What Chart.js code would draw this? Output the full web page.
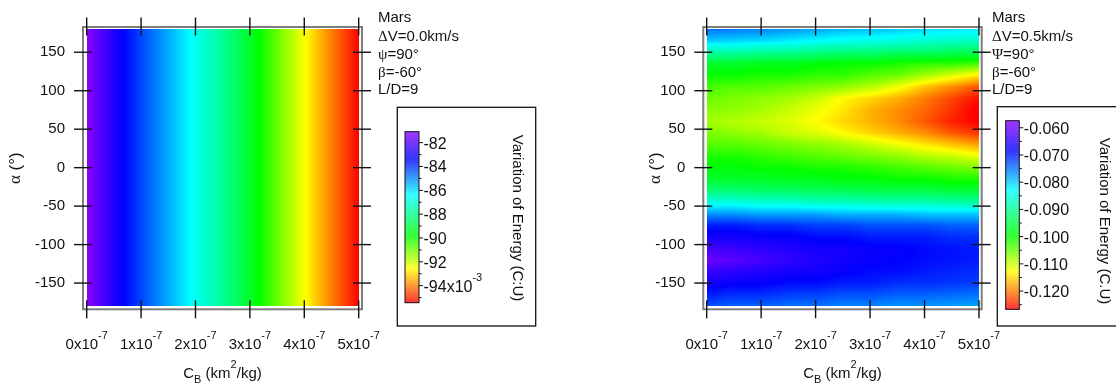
<!DOCTYPE html>
<html>
<head>
<meta charset="utf-8">
<title>Variation of Energy - Mars</title>
<script src="https://cdn.jsdelivr.net/npm/chart.js@4.4.1/dist/chart.umd.min.js"></script>
<style>
  html, body { margin: 0; padding: 0; background: #fff; }
  #page { position: relative; width: 1116px; height: 386px; overflow: hidden; }
  #page canvas { position: absolute; top: 0; }
</style>
</head>
<body>
<div id="page">
  <canvas id="chartDv0" width="558" height="386" style="left:0"></canvas>
  <canvas id="chartDv05" width="558" height="386" style="left:558px"></canvas>
</div>
<script>
// axis ticks (C_B is given in units of 1e-7 km^2/kg)
const cbTicks = [0, 1, 2, 3, 4, 5];
const alphaTicks = [150, 100, 50, 0, -50, -100, -150];

// sampling grid of the energy maps
const cbGrid = [0, 0.5, 1, 1.5, 2, 2.5, 3, 3.5, 4, 4.5, 5];
const alphaGrid = [180, 165, 150, 135, 120, 105, 90, 75, 60, 45, 30, 15, 0,
                   -15, -30, -45, -60, -75, -90, -105, -120, -135, -150, -165, -180];

// dV = 0.0 km/s : energy only depends on C_B (units of 1e-3 C.U)
const energyDv0 = [-81.1, -82.9, -84.2, -85.4, -86.6, -87.8, -89.3, -90.9, -92.5, -94.0, -95.4];

// dV = 0.5 km/s : one row per alphaGrid entry, one column per cbGrid entry (C.U)
const energyDv05 = [
  [-0.075, -0.0755, -0.076, -0.077, -0.078, -0.079, -0.0795, -0.080, -0.081, -0.0815, -0.082],
  [-0.080, -0.0805, -0.081, -0.082, -0.083, -0.084, -0.0845, -0.085, -0.086, -0.0865, -0.087],
  [-0.089, -0.089, -0.090, -0.090, -0.091, -0.092, -0.092, -0.093, -0.093, -0.094, -0.094],
  [-0.097, -0.097, -0.098, -0.098, -0.099, -0.100, -0.100, -0.101, -0.102, -0.102, -0.103],
  [-0.100, -0.100, -0.101, -0.101, -0.102, -0.102, -0.104, -0.105, -0.108, -0.111, -0.114],
  [-0.103, -0.104, -0.104, -0.105, -0.106, -0.107, -0.109, -0.112, -0.116, -0.119, -0.122],
  [-0.105, -0.106, -0.107, -0.108, -0.110, -0.113, -0.115, -0.117, -0.120, -0.123, -0.126],
  [-0.107, -0.107, -0.108, -0.110, -0.112, -0.114, -0.117, -0.119, -0.121, -0.124, -0.1275],
  [-0.108, -0.109, -0.110, -0.111, -0.113, -0.115, -0.117, -0.119, -0.122, -0.125, -0.127],
  [-0.106, -0.107, -0.108, -0.110, -0.111, -0.113, -0.115, -0.117, -0.119, -0.122, -0.124],
  [-0.104, -0.104, -0.105, -0.106, -0.107, -0.108, -0.110, -0.112, -0.114, -0.116, -0.118],
  [-0.101, -0.101, -0.102, -0.103, -0.104, -0.105, -0.106, -0.107, -0.109, -0.110, -0.112],
  [-0.099, -0.099, -0.100, -0.100, -0.101, -0.101, -0.102, -0.103, -0.104, -0.105, -0.106],
  [-0.097, -0.097, -0.097, -0.098, -0.098, -0.099, -0.099, -0.100, -0.100, -0.101, -0.101],
  [-0.092, -0.092, -0.093, -0.093, -0.094, -0.094, -0.095, -0.095, -0.095, -0.096, -0.096],
  [-0.085, -0.085, -0.086, -0.086, -0.087, -0.087, -0.088, -0.088, -0.088, -0.089, -0.089],
  [-0.077, -0.077, -0.078, -0.078, -0.078, -0.079, -0.079, -0.079, -0.080, -0.080, -0.080],
  [-0.070, -0.070, -0.071, -0.071, -0.072, -0.072, -0.073, -0.073, -0.073, -0.074, -0.074],
  [-0.067, -0.067, -0.068, -0.068, -0.069, -0.069, -0.070, -0.070, -0.070, -0.071, -0.071],
  [-0.063, -0.064, -0.065, -0.066, -0.067, -0.067, -0.068, -0.068, -0.069, -0.0695, -0.070],
  [-0.060, -0.0615, -0.063, -0.0645, -0.066, -0.067, -0.068, -0.0685, -0.069, -0.0695, -0.070],
  [-0.064, -0.065, -0.066, -0.067, -0.067, -0.068, -0.069, -0.069, -0.070, -0.0705, -0.071],
  [-0.067, -0.068, -0.068, -0.069, -0.069, -0.070, -0.070, -0.071, -0.071, -0.0715, -0.072],
  [-0.070, -0.071, -0.071, -0.072, -0.072, -0.073, -0.073, -0.074, -0.074, -0.0745, -0.075],
  [-0.073, -0.074, -0.074, -0.075, -0.075, -0.076, -0.076, -0.077, -0.077, -0.0775, -0.078]
];

// colour scale ticks
const barTicksDv0 = [-82, -84, -86, -88, -90, -92, -94];
const barMinorDv0 = [-83, -85, -87, -89, -91, -93, -95];
const barTicksDv05 = [-0.060, -0.070, -0.080, -0.090, -0.100, -0.110, -0.120];
const barMinorDv05 = [-0.065, -0.075, -0.085, -0.095, -0.105, -0.115, -0.125];

// case annotations
const infoDv0 = [['Mars'], ['\u0394', 'V=0.0km/s'], ['\u03c8', '=90\u00b0'], ['\u03b2', '=-60\u00b0'], ['L/D=9']];
const infoDv05 = [['Mars'], ['\u0394', 'V=0.5km/s'], ['\u03a8', '=90\u00b0'], ['\u03b2', '=-60\u00b0'], ['L/D=9']];

const FONT = "'Liberation Sans', Arial, sans-serif";
const SERIF = "'Liberation Serif', 'Times New Roman', serif";
const INK = '#111';

// rainbow colour table: 0 = lowest value (red), 1 = highest value (violet)
const rainbow = [
  [0.00, [255, 0, 0]],
  [0.20, [255, 255, 0]],
  [0.39, [0, 255, 0]],
  [0.63, [0, 255, 255]],
  [0.84, [0, 0, 255]],
  [1.00, [140, 0, 255]]
];

function clamp(v, a, b) { return Math.max(a, Math.min(b, v)); }

function colourAt(t) {
  t = clamp(t, 0, 1);
  for (let i = 1; i < rainbow.length; i++) {
    const [t1, c1] = rainbow[i];
    if (t <= t1) {
      const [t0, c0] = rainbow[i - 1];
      const f = (t - t0) / (t1 - t0);
      return [0, 1, 2].map(k => Math.round(c0[k] + (c1[k] - c0[k]) * f));
    }
  }
  return rainbow[rainbow.length - 1][1];
}

// text made of pieces: [text, kind] with kind '', 'sup', 'sub' or 'serif'
function drawRich(ctx, parts, x, y, size, align) {
  const fonts = parts.map(([, kind]) => {
    const s = (kind === 'sup' || kind === 'sub') ? Math.round(size * 0.7) : size;
    return s + 'px ' + (kind === 'serif' ? SERIF : FONT);
  });
  let w = 0;
  parts.forEach(([t], i) => { ctx.font = fonts[i]; w += ctx.measureText(t).width; });
  let cx = align === 'center' ? x - w / 2 : align === 'right' ? x - w : x;
  ctx.textAlign = 'left';
  parts.forEach(([t, kind], i) => {
    ctx.font = fonts[i];
    const dy = kind === 'sup' ? -size * 0.65 : kind === 'sub' ? size * 0.3 : 0;
    ctx.fillText(t, cx, y + dy);
    cx += ctx.measureText(t).width;
  });
}

function line(ctx, x0, y0, x1, y1) {
  ctx.beginPath(); ctx.moveTo(x0, y0); ctx.lineTo(x1, y1); ctx.stroke();
}

function panelPlugin(cfg) {
  return {
    id: 'panel',
    // energy map, shaded pixel by pixel between the grid samples
    beforeDatasetsDraw(chart) {
      const ctx = chart.ctx, xs = chart.scales.x, ys = chart.scales.y;
      const nx = cbGrid.length, ny = alphaGrid.length;
      const grid = alphaGrid.map(() => new Array(nx));
      chart.data.datasets[0].data.forEach(c => {
        grid[alphaGrid.indexOf(c.y)][cbGrid.indexOf(c.x)] = c.v;
      });
      const left = Math.round(xs.getPixelForValue(cbGrid[0]));
      const right = Math.round(xs.getPixelForValue(cbGrid[nx - 1]));
      const top = Math.round(ys.getPixelForValue(alphaGrid[0]));
      const bottom = Math.round(ys.getPixelForValue(alphaGrid[ny - 1]));
      const w = right - left, h = bottom - top;
      const img = ctx.createImageData(w, h);
      const dcb = cbGrid[1] - cbGrid[0], dal = alphaGrid[0] - alphaGrid[1];
      for (let py = 0; py < h; py++) {
        const a = ys.getValueForPixel(top + py + 0.5);
        const fy = clamp((alphaGrid[0] - a) / dal, 0, ny - 1);
        const j0 = Math.min(Math.floor(fy), ny - 2), ty = fy - j0;
        for (let px = 0; px < w; px++) {
          const c = xs.getValueForPixel(left + px + 0.5);
          const fx = clamp((c - cbGrid[0]) / dcb, 0, nx - 1);
          const i0 = Math.min(Math.floor(fx), nx - 2), tx = fx - i0;
          const v = (grid[j0][i0] * (1 - tx) + grid[j0][i0 + 1] * tx) * (1 - ty) +
                    (grid[j0 + 1][i0] * (1 - tx) + grid[j0 + 1][i0 + 1] * tx) * ty;
          const col = colourAt((v - cfg.vMin) / (cfg.vMax - cfg.vMin));
          const k = (py * w + px) * 4;
          img.data[k] = col[0]; img.data[k + 1] = col[1]; img.data[k + 2] = col[2]; img.data[k + 3] = 255;
        }
      }
      ctx.putImageData(img, left, top);
    },
    afterDraw(chart) {
      const ctx = chart.ctx, xs = chart.scales.x, ys = chart.scales.y;
      const area = chart.chartArea;
      ctx.save();

      // plot frame
      ctx.strokeStyle = '#7d7d7d';
      ctx.lineWidth = 2;
      ctx.strokeRect(area.left, area.top, area.right - area.left, area.bottom - area.top);

      // ticks cross the frame on all four sides
      ctx.strokeStyle = INK;
      ctx.lineWidth = 1.4;
      cbTicks.forEach(v => {
        const x = xs.getPixelForValue(v);
        line(ctx, x, area.top - 9.5, x, area.top + 8.5);
        line(ctx, x, area.bottom - 9, x, area.bottom + 9);
      });
      alphaTicks.forEach(v => {
        const y = ys.getPixelForValue(v);
        line(ctx, area.left - 9, y, area.left + 9, y);
        line(ctx, area.right - 9, y, area.right + 9, y);
      });

      ctx.fillStyle = INK;
      ctx.textBaseline = 'alphabetic';

      // x tick labels  "Nx10^-7"
      cbTicks.forEach(v => {
        drawRich(ctx, [[v + 'x10', ''], ['-7', 'sup']], xs.getPixelForValue(v), 349, 15, 'center');
      });

      // axis titles
      const midX = (area.left + area.right) / 2;
      drawRich(ctx, [['C', ''], ['B', 'sub'], [' (km', ''], ['2', 'sup'], ['/kg)', '']], midX, 378, 15, 'center');
      ctx.save();
      ctx.translate(cfg.yTitleX, (area.top + area.bottom) / 2);
      ctx.rotate(-Math.PI / 2);
      ctx.textBaseline = 'middle';
      drawRich(ctx, [['\u03b1', 'serif'], [' (\u00b0)', '']], 0, 0, 17, 'center');
      ctx.restore();

      // case annotations
      cfg.info.forEach((parts, i) => {
        const rich = parts.length === 2 ? [[parts[0], 'serif'], [parts[1], '']] : [[parts[0], '']];
        drawRich(ctx, rich, cfg.infoX, cfg.infoY[i], 15, 'left');
      });

      // colour scale box
      const b = cfg.box;
      ctx.strokeStyle = INK;
      ctx.lineWidth = 1.3;
      ctx.strokeRect(b.x, b.y, b.w, b.h);

      const bar = cfg.bar;
      for (let y = 0; y < bar.h; y++) {
        const v = cfg.vMax - (y + 0.5) / bar.h * (cfg.vMax - cfg.vMin);
        const c = colourAt((v - cfg.vMin) / (cfg.vMax - cfg.vMin));
        ctx.fillStyle = `rgb(${c[0]},${c[1]},${c[2]})`;
        ctx.fillRect(bar.x, bar.y + y, bar.w, 1);
      }
      ctx.lineWidth = 1;
      ctx.strokeRect(bar.x, bar.y, bar.w, bar.h);

      const barY = v => bar.y + (cfg.vMax - v) / (cfg.vMax - cfg.vMin) * bar.h;
      const bx = bar.x + bar.w;
      cfg.minor.forEach(v => line(ctx, bx, barY(v), bx + 2.5, barY(v)));
      ctx.fillStyle = INK;
      cfg.major.forEach((v, i) => {
        const y = barY(v);
        line(ctx, bx, y, bx + 4, y);
        const parts = i === cfg.major.length - 1 ? cfg.lastLabel(v) : [[cfg.fmt(v), '']];
        drawRich(ctx, parts, bx + 4.5, y + 6, 16, 'left');
      });

      // colour scale title, reading downwards
      ctx.save();
      ctx.translate(cfg.titleX, cfg.titleY);
      ctx.rotate(Math.PI / 2);
      ctx.font = '15px ' + FONT;
      ctx.textAlign = 'center';
      ctx.textBaseline = 'middle';
      ctx.fillText(cfg.title, 0, 0);
      ctx.restore();

      ctx.restore();
    }
  };
}

function makePanel(id, values, cfg) {
  const cells = [];
  alphaGrid.forEach((a, j) => cbGrid.forEach((c, i) => cells.push({ x: c, y: a, v: values(j, i) })));
  return new Chart(document.getElementById(id), {
    type: 'scatter',
    data: { datasets: [{ data: cells, pointRadius: 0, pointHoverRadius: 0 }] },
    options: {
      responsive: false,
      animation: false,
      devicePixelRatio: 1,
      events: [],
      layout: { padding: { left: 0, top: 22.7, right: 558 - cfg.frameRight, bottom: 0 } },
      plugins: { legend: { display: false }, tooltip: { enabled: false } },
      scales: {
        x: {
          type: 'linear', min: cfg.xMin, max: cfg.xMax,
          ticks: { display: false },
          grid: { display: false, drawTicks: false },
          border: { display: false },
          afterFit: s => { s.height = 386 - 309.3; }
        },
        y: {
          type: 'linear', min: -184.1, max: 182.8,
          afterBuildTicks: s => { s.ticks = alphaTicks.map(v => ({ value: v })); },
          ticks: { font: { family: FONT, size: 15 }, color: INK, padding: 18 },
          grid: { display: false, drawTicks: false },
          border: { display: false },
          afterFit: s => { s.width = cfg.frameLeft; }
        }
      }
    },
    plugins: [panelPlugin(cfg)]
  });
}

const infoY = [21.7, 40.6, 58.8, 77, 94.3];

makePanel('chartDv0', (j, i) => energyDv0[i], {
  frameLeft: 83, frameRight: 362, xMin: -0.068, xMax: 5.061,
  vMin: -95.43, vMax: -81.08,
  yTitleX: 16, infoX: 378, infoY: infoY, info: infoDv0,
  box: { x: 397.3, y: 107.3, w: 138.4, h: 218.7 },
  bar: { x: 405, y: 131.7, w: 14, h: 171 },
  major: barTicksDv0, minor: barMinorDv0,
  fmt: v => String(v),
  lastLabel: v => [[v + 'x10', ''], ['-3', 'sup']],
  titleX: 517, titleY: 218, title: 'Variation of Energy (C:U)'
});

makePanel('chartDv05', (j, i) => energyDv05[j][i], {
  frameLeft: 145.3, frameRight: 423.7, xMin: -0.062, xMax: 5.05,
  vMin: -0.1267, vMax: -0.0574,
  yTitleX: 98, infoX: 434, infoY: infoY, info: infoDv05,
  box: { x: 439.3, y: 106.7, w: 140, h: 219.3 },
  bar: { x: 447.7, y: 120.7, w: 13.6, h: 188.6 },
  major: barTicksDv05, minor: barMinorDv05,
  fmt: v => v.toFixed(3),
  lastLabel: v => [[v.toFixed(3), '']],
  titleX: 546, titleY: 221, title: 'Variation of Energy (C.U)'
});
</script>
</body>
</html>
